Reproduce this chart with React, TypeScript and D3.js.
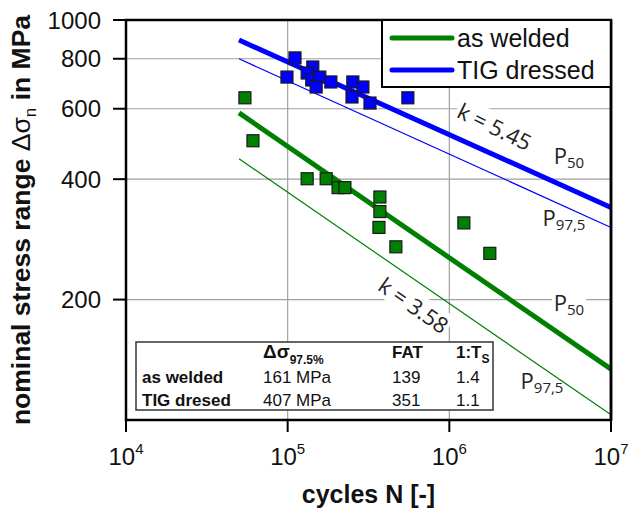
import React, { useEffect, useRef } from "react"
import * as d3 from "d3"

// measured S-N data (cycles, stress range in MPa)
const weldedN = [5.44e4, 6.1e4, 1.32e5, 1.73e5, 2.05e5, 2.26e5, 3.72e5, 3.72e5, 3.67e5, 4.67e5, 1.23e6, 1.78e6]
const weldedS = [639, 499, 401, 401, 381, 381, 361, 332, 303, 271, 311, 261]
const tigN = [1.11e5, 9.9e4, 1.43e5, 1.32e5, 1.41e5, 1.58e5, 1.5e5, 1.85e5, 2.53e5, 2.92e5, 2.5e5, 3.23e5, 5.54e5]
const tigS = [804, 720, 763, 737, 708, 720, 680, 700, 700, 680, 642, 620, 639]

// fitted curves: [N, S] end points
const curveN = [5e4, 1e7]
const weldedP50 = [586, 134]
const weldedP975 = [450, 103]
const tigP50 = [891, 340]
const tigP975 = [800, 303]

const xTicks = [4, 5, 6, 7]
const yTicks = [200, 400, 600, 800, 1000]

const legendNames = ["as welded", "TIG dressed"]
const tableRows = ["as welded", "TIG dresed"]
const tableDelta = ["161 MPa", "407 MPa"]
const tableFat = ["139", "351"]
const tableTs = ["1.4", "1.1"]

const GREEN = "#008000"
const BLUE = "#0000ff"

export default function App() {
  const svgRef = useRef<SVGSVGElement | null>(null)

  useEffect(() => {
    const width = 630
    const height = 515
    const margin = { top: 20, right: 19, bottom: 95, left: 126 }

    const svg = d3.select(svgRef.current).attr("width", width).attr("height", height)
    svg.selectAll("*").remove()

    const x = d3.scaleLog().domain([1e4, 1e7]).range([margin.left, width - margin.right])
    const y = d3.scaleLog().domain([100, 1000]).range([height - margin.bottom, margin.top])
    const [x0, x1] = x.range()
    const [y0, y1] = y.range()

    // grid
    const grid = svg.append("g").attr("stroke", "#a0a0a0").attr("stroke-width", 1.2)
    grid.selectAll("line.gx")
      .data([1e5, 1e6])
      .enter()
      .append("line")
      .attr("x1", (d) => x(d))
      .attr("x2", (d) => x(d))
      .attr("y1", y1)
      .attr("y2", y0)
    grid.selectAll("line.gy")
      .data(yTicks.filter((d) => d < 1000))
      .enter()
      .append("line")
      .attr("y1", (d) => y(d))
      .attr("y2", (d) => y(d))
      .attr("x1", x0)
      .attr("x2", x1)

    // annotations with white background
    const addLabel = (cx: number, cy: number, angle: number, parts: [string, number, number][]) => {
      const g = svg.append("g").attr("transform", `translate(${cx},${cy}) rotate(${angle})`)
      const rect = g.append("rect").attr("fill", "white")
      const t = g.append("text")
        .attr("font-family", "'Open Sans', 'Noto Sans', sans-serif")
        .attr("fill", "#222")
      parts.forEach(([s, size, dy]) => {
        t.append("tspan").attr("font-size", size).attr("dy", dy).text(s)
      })
      const bb = (t.node() as SVGTextElement).getBBox()
      t.attr("x", -bb.width / 2)
      const bb2 = (t.node() as SVGTextElement).getBBox()
      rect.attr("x", bb2.x - 2).attr("y", bb2.y + 2).attr("width", bb2.width + 4).attr("height", bb2.height - 4)
    }
    addLabel(491, 134, 26, [["k = 5.45", 22, 0]])
    addLabel(409, 312, 35, [["k = 3.58", 22, 0]])
    addLabel(569, 164, 0, [["P", 22, 0], ["50", 15, 4]])
    addLabel(564, 226, 0, [["P", 22, 0], ["97,5", 15, 4]])
    addLabel(569, 311, 0, [["P", 22, 0], ["50", 15, 4]])
    addLabel(542, 389, 0, [["P", 22, 0], ["97,5", 15, 4]])

    // curves
    const line = d3.line<[number, number]>().x((d) => x(d[0])).y((d) => y(d[1]))
    const curves: [number[], string, number][] = [
      [weldedP975, GREEN, 1.2],
      [weldedP50, GREEN, 5],
      [tigP975, BLUE, 1.2],
      [tigP50, BLUE, 5],
    ]
    curves.forEach(([s, color, w]) => {
      svg.append("path")
        .datum(curveN.map((n, i) => [n, s[i]] as [number, number]))
        .attr("fill", "none")
        .attr("stroke", color)
        .attr("stroke-width", w)
        .attr("d", line)
    })

    // points
    const size = 12
    const drawPoints = (ns: number[], ss: number[], color: string) => {
      svg.append("g")
        .selectAll("rect")
        .data(ns.map((n, i) => [n, ss[i]]))
        .enter()
        .append("rect")
        .attr("x", (d) => x(d[0]) - size / 2)
        .attr("y", (d) => y(d[1]) - size / 2)
        .attr("width", size)
        .attr("height", size)
        .attr("fill", color)
        .attr("stroke", "#1a1a1a")
        .attr("stroke-width", 1.2)
    }
    drawPoints(weldedN, weldedS, GREEN)
    drawPoints(tigN, tigS, BLUE)

    // frame and ticks
    svg.append("rect")
      .attr("x", x0)
      .attr("y", y1)
      .attr("width", x1 - x0)
      .attr("height", y0 - y1)
      .attr("fill", "none")
      .attr("stroke", "black")
      .attr("stroke-width", 2.5)

    const font = "'Liberation Sans', Arial, sans-serif"
    svg.append("g")
      .selectAll("line")
      .data(yTicks)
      .enter()
      .append("line")
      .attr("x1", x0 - 13)
      .attr("x2", x0)
      .attr("y1", (d) => y(d))
      .attr("y2", (d) => y(d))
      .attr("stroke", "black")
      .attr("stroke-width", 2)
    svg.append("g")
      .selectAll("text")
      .data(yTicks)
      .enter()
      .append("text")
      .attr("x", x0 - 25)
      .attr("y", (d) => y(d))
      .attr("dy", "0.36em")
      .attr("text-anchor", "end")
      .attr("font-family", font)
      .attr("font-size", 24)
      .attr("fill", "#111")
      .text((d) => d)

    svg.append("g")
      .selectAll("line")
      .data(xTicks)
      .enter()
      .append("line")
      .attr("x1", (d) => x(10 ** d))
      .attr("x2", (d) => x(10 ** d))
      .attr("y1", y0)
      .attr("y2", y0 + 12)
      .attr("stroke", "black")
      .attr("stroke-width", 2)
    const xl = svg.append("g")
      .selectAll("text")
      .data(xTicks)
      .enter()
      .append("text")
      .attr("x", (d) => x(10 ** d))
      .attr("y", y0 + 45)
      .attr("text-anchor", "middle")
      .attr("font-family", font)
      .attr("font-size", 24)
      .attr("fill", "#111")
    xl.append("tspan").text("10")
    xl.append("tspan").attr("font-size", 15).attr("dy", -11).text((d) => d)

    // axis titles
    svg.append("text")
      .attr("x", (x0 + x1) / 2)
      .attr("y", 503)
      .attr("text-anchor", "middle")
      .attr("font-family", font)
      .attr("font-size", 25)
      .attr("font-weight", "bold")
      .attr("fill", "#111")
      .text("cycles N [-]")

    const yt = svg.append("text")
      .attr("transform", `translate(30,${(y0 + y1) / 2}) rotate(-90)`)
      .attr("text-anchor", "middle")
      .attr("font-family", font)
      .attr("font-size", 26.5)
      .attr("font-weight", "bold")
      .attr("fill", "#111")
    yt.append("tspan").text("nominal stress range ")
    yt.append("tspan").attr("font-weight", "normal").text("Δσ")
    yt.append("tspan").attr("font-weight", "normal").attr("font-size", 17).attr("dy", 6).text("n")
    yt.append("tspan").attr("dy", -6).text(" in MPa")

    // legend
    const lg = svg.append("g")
    lg.append("rect")
      .attr("x", 382)
      .attr("y", y1)
      .attr("width", x1 - 382)
      .attr("height", 67)
      .attr("fill", "white")
      .attr("stroke", "black")
      .attr("stroke-width", 2)
    legendNames.forEach((name, i) => {
      const ly = 38 + i * 32
      lg.append("line")
        .attr("x1", 392)
        .attr("x2", 452)
        .attr("y1", ly)
        .attr("y2", ly)
        .attr("stroke", i === 0 ? GREEN : BLUE)
        .attr("stroke-width", 5)
        .attr("stroke-linecap", "round")
      lg.append("text")
        .attr("x", 457)
        .attr("y", ly + 9)
        .attr("font-family", font)
        .attr("font-size", 25)
        .attr("fill", "#111")
        .text(name)
    })
    svg.append("line")
      .attr("x1", x1).attr("x2", x1).attr("y1", y1).attr("y2", y0)
      .attr("stroke", "black").attr("stroke-width", 2.5)

    // table
    const tb = svg.append("g").attr("font-family", font).attr("font-size", 17).attr("fill", "#111")
    tb.append("rect")
      .attr("x", 136)
      .attr("y", 342)
      .attr("width", 357)
      .attr("height", 68)
      .attr("fill", "white")
      .attr("stroke", "#333")
      .attr("stroke-width", 1.5)
    const cols = [142, 263, 392, 456]
    const h1 = tb.append("text").attr("x", cols[1]).attr("y", 358).attr("font-weight", "bold")
    h1.append("tspan").attr("font-size", 19).text("Δσ")
    h1.append("tspan").attr("font-size", 12).attr("dy", 6).text("97.5%")
    tb.append("text").attr("x", cols[2]).attr("y", 358).attr("font-weight", "bold").text("FAT")
    const h3 = tb.append("text").attr("x", cols[3]).attr("y", 358).attr("font-weight", "bold")
    h3.append("tspan").text("1:T")
    h3.append("tspan").attr("font-size", 12).attr("dy", 5).text("S")
    tableRows.forEach((r, i) => {
      const by = 383 + i * 23
      tb.append("text").attr("x", cols[0]).attr("y", by).attr("font-weight", "bold").text(r)
      tb.append("text").attr("x", cols[1]).attr("y", by).text(tableDelta[i])
      tb.append("text").attr("x", cols[2]).attr("y", by).text(tableFat[i])
      tb.append("text").attr("x", cols[3]).attr("y", by).text(tableTs[i])
    })
  }, [])

  return (
    <div style={{ position: "absolute", left: 0, top: 0 }}>
      <svg ref={svgRef} style={{ display: "block" }}></svg>
    </div>
  )
}
